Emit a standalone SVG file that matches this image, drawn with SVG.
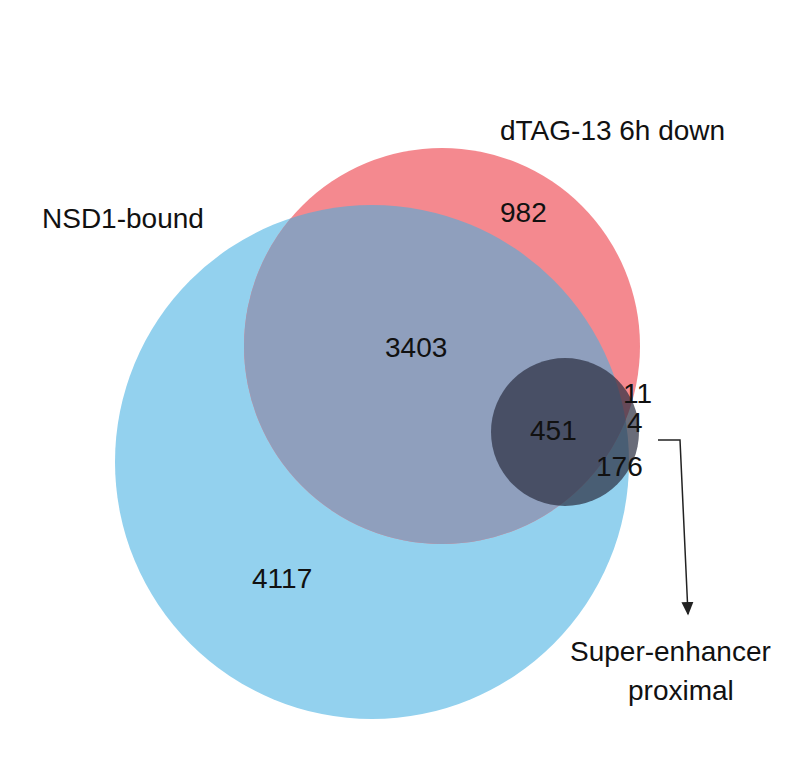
<svg xmlns="http://www.w3.org/2000/svg" width="808" height="780" viewBox="0 0 808 780">
<style>text{font-family:"Liberation Sans",Arial,sans-serif;font-size:28px;fill:#111}</style>
<defs>
<clipPath id="cb"><circle cx="372" cy="462" r="257"/></clipPath>
<marker id="ah" markerWidth="10" markerHeight="10" refX="8" refY="5" orient="auto"><path d="M0,1 L9,5 L0,9 Z" fill="#222"/></marker>
</defs>
<rect width="808" height="780" fill="#fff"/>
<g id="nsd1"><circle cx="372" cy="462" r="257" fill="#93d1ee"/></g>
<g id="dtag"><circle cx="442" cy="346" r="198" fill="#f4898f"/>
<circle cx="442" cy="346" r="198" fill="#8f9fbd" clip-path="url(#cb)"/></g>
<g id="se"><circle cx="565" cy="432" r="74" fill="#2a2d40" fill-opacity="0.7"/></g>
<g id="labels">
<text x="500" y="140">dTAG-13 6h down</text>
<text x="42" y="228">NSD1-bound</text>
<text x="500" y="222">982</text>
<text x="385" y="357">3403</text>
<text x="530" y="440">451</text>
<text x="623" y="403">11</text>
<text x="627" y="432">4</text>
<text x="596" y="476">176</text>
<text x="252" y="588">4117</text>
<text x="570" y="661">Super-enhancer</text>
<text x="628" y="700">proximal</text>
</g>
<g id="connectors"><path d="M658,440 H680 L688,614" fill="none" stroke="#222" stroke-width="1.5" marker-end="url(#ah)"/></g>
</svg>
